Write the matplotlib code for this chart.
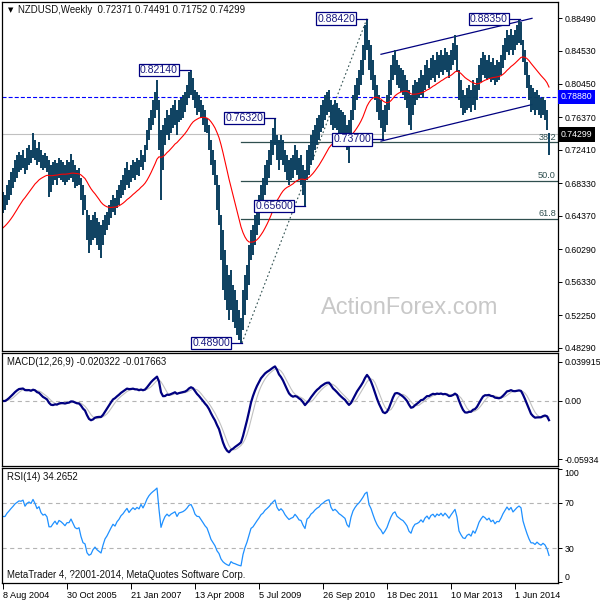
import numpy as np
import matplotlib
matplotlib.use("Agg")
import matplotlib.pyplot as plt
import matplotlib.transforms as mtransforms

plt.rcParams['font.family'] = ['Liberation Sans', 'DejaVu Sans']
plt.rcParams['lines.scale_dashes'] = False

# NZDUSD weekly chart, read as one bar per two weeks (Aug 2004 - Jan 2015)
highs = [
    0.673, 0.669, 0.681, 0.688, 0.697, 0.702, 0.712, 0.718, 0.722, 0.718,
    0.724, 0.714, 0.727, 0.730, 0.724, 0.745, 0.736, 0.727, 0.734, 0.724,
    0.718, 0.720, 0.717, 0.712, 0.706, 0.709, 0.712, 0.708, 0.714, 0.712,
    0.709, 0.706, 0.712, 0.709, 0.719, 0.712, 0.706, 0.700, 0.702, 0.690,
    0.681, 0.669, 0.651, 0.645, 0.639, 0.645, 0.649, 0.641, 0.636, 0.633,
    0.639, 0.645, 0.649, 0.657, 0.663, 0.669, 0.666, 0.675, 0.681, 0.688,
    0.694, 0.702, 0.709, 0.700, 0.706, 0.712, 0.709, 0.714, 0.712,
    0.724, 0.718, 0.730, 0.748, 0.763, 0.773, 0.785, 0.795, 0.809, 0.785,
    0.748, 0.755, 0.763, 0.773, 0.767, 0.775, 0.779, 0.785, 0.773, 0.785,
    0.787, 0.791, 0.795, 0.803, 0.819, 0.822, 0.812, 0.797, 0.795, 0.791,
    0.785, 0.779, 0.773, 0.763, 0.755, 0.736, 0.724, 0.712, 0.694, 0.681,
    0.645, 0.627, 0.602, 0.584, 0.572, 0.578, 0.560, 0.554, 0.541, 0.529,
    0.520, 0.554, 0.572, 0.584, 0.608, 0.627, 0.633, 0.645, 0.657, 0.669,
    0.681, 0.690, 0.706, 0.712, 0.724, 0.736, 0.751, 0.763, 0.742, 0.736,
    0.742, 0.736, 0.724, 0.718, 0.712, 0.714, 0.718, 0.730, 0.724, 0.714,
    0.718, 0.706, 0.700, 0.724, 0.730, 0.742, 0.748, 0.755, 0.763, 0.767,
    0.779, 0.785, 0.791, 0.795, 0.797, 0.785, 0.779, 0.785, 0.781, 0.775,
    0.773, 0.770, 0.767, 0.755, 0.761, 0.773, 0.791, 0.803, 0.812, 0.822,
    0.834, 0.852, 0.876, 0.884, 0.858, 0.852, 0.834, 0.815, 0.803, 0.791,
    0.785, 0.773, 0.779, 0.791, 0.809, 0.828, 0.840, 0.846, 0.834, 0.828,
    0.824, 0.822, 0.815, 0.809, 0.797, 0.791, 0.803, 0.809, 0.807, 0.812,
    0.822, 0.815, 0.828, 0.834, 0.824, 0.836, 0.840, 0.834, 0.843, 0.840,
    0.846, 0.840, 0.848, 0.843, 0.840, 0.846, 0.855, 0.864, 0.852, 0.822,
    0.809, 0.797, 0.791, 0.800, 0.803, 0.797, 0.809, 0.803, 0.812, 0.828,
    0.836, 0.843, 0.840, 0.834, 0.840, 0.831, 0.836, 0.828, 0.834, 0.831,
    0.840, 0.852, 0.860, 0.870, 0.864, 0.872, 0.864, 0.870, 0.876, 0.882,
    0.880, 0.858, 0.846, 0.831, 0.815, 0.803, 0.800, 0.795, 0.797, 0.791,
    0.787, 0.789, 0.785, 0.773, 0.745,
]
lows = [
    0.647, 0.651, 0.657, 0.663, 0.669, 0.678, 0.685, 0.690, 0.697, 0.700,
    0.702, 0.695, 0.700, 0.706, 0.708, 0.714, 0.712, 0.706, 0.710, 0.702,
    0.700, 0.702, 0.697, 0.667, 0.673, 0.681, 0.688, 0.681, 0.690, 0.688,
    0.685, 0.681, 0.685, 0.688, 0.690, 0.685, 0.678, 0.680, 0.681, 0.663,
    0.645, 0.651, 0.614, 0.599, 0.608, 0.614, 0.617, 0.608, 0.602, 0.593,
    0.608, 0.621, 0.627, 0.633, 0.641, 0.649, 0.645, 0.653, 0.657, 0.666,
    0.669, 0.675, 0.681, 0.678, 0.685, 0.690, 0.688, 0.694, 0.692,
    0.703, 0.700, 0.710, 0.724, 0.736, 0.748, 0.755, 0.763, 0.773, 0.724,
    0.663, 0.700, 0.730, 0.742, 0.736, 0.745, 0.751, 0.755, 0.742, 0.758,
    0.761, 0.763, 0.770, 0.779, 0.787, 0.791, 0.785, 0.775, 0.767, 0.770,
    0.763, 0.755, 0.746, 0.745, 0.724, 0.706, 0.694, 0.681, 0.651, 0.633,
    0.590, 0.554, 0.541, 0.529, 0.517, 0.529, 0.515, 0.507, 0.499, 0.493,
    0.489, 0.505, 0.523, 0.541, 0.560, 0.590, 0.596, 0.608, 0.621, 0.633,
    0.651, 0.657, 0.669, 0.681, 0.690, 0.706, 0.718, 0.730, 0.712, 0.700,
    0.712, 0.706, 0.697, 0.688, 0.681, 0.688, 0.690, 0.700, 0.694, 0.688,
    0.681, 0.669, 0.656, 0.688, 0.694, 0.706, 0.712, 0.724, 0.730, 0.736,
    0.746, 0.751, 0.761, 0.767, 0.770, 0.755, 0.748, 0.751, 0.748, 0.745,
    0.742, 0.739, 0.736, 0.724, 0.708, 0.742, 0.761, 0.773, 0.785, 0.791,
    0.803, 0.815, 0.834, 0.846, 0.822, 0.809, 0.797, 0.785, 0.770, 0.761,
    0.751, 0.736, 0.746, 0.755, 0.773, 0.791, 0.809, 0.815, 0.803, 0.800,
    0.795, 0.791, 0.785, 0.775, 0.755, 0.748, 0.767, 0.779, 0.785, 0.787,
    0.791, 0.787, 0.797, 0.803, 0.800, 0.809, 0.812, 0.807, 0.815, 0.812,
    0.819, 0.815, 0.822, 0.819, 0.812, 0.822, 0.828, 0.834, 0.819, 0.785,
    0.775, 0.767, 0.769, 0.773, 0.775, 0.770, 0.779, 0.773, 0.785, 0.797,
    0.807, 0.815, 0.812, 0.809, 0.812, 0.807, 0.809, 0.803, 0.807, 0.809,
    0.815, 0.824, 0.834, 0.843, 0.840, 0.846, 0.840, 0.846, 0.852, 0.855,
    0.852, 0.831, 0.815, 0.800, 0.785, 0.770, 0.773, 0.767, 0.773, 0.767,
    0.763, 0.767, 0.761, 0.748, 0.718,
]

price_ticks = [0.88490, 0.84530, 0.80450, 0.76370, 0.72410, 0.68330,
               0.64370, 0.60290, 0.56330, 0.52250, 0.48290]
date_labels = ['8 Aug 2004', '30 Oct 2005', '21 Jan 2007', '13 Apr 2008', '5 Jul 2009',
               '26 Sep 2010', '18 Dec 2011', '10 Mar 2013', '1 Jun 2014']

# swing highs / lows marked on the chart: label, week, price
swings = [("0.82140", 187, 0.8214), ("0.76320", 272, 0.7632), ("0.65600", 302, 0.6560),
          ("0.48900", 239, 0.4890), ("0.88420", 364, 0.8842), ("0.73700", 380, 0.7370),
          ("0.88350", 517, 0.8835)]
fib_low, fib_high = 0.4890, 0.8842
fib_levels = [38.2, 50.0, 61.8]
resistance = 0.7888
last_close = 0.74299
# rising channel: (week0, price0, week1, price1)
channel = [(378, 0.8407, 529, 0.8845), (378, 0.7349, 529, 0.7794)]
# indicator values at the first visible bar
ma_start = 0.627
rsi_start = 58

bar_col = '#0b3f5f'
W, H = 600, 600
fig = plt.figure(figsize=(6, 6), dpi=100)


def panel(top, bottom):
    a = fig.add_axes([2 / W, 1 - bottom / H, 556 / W, (bottom - top) / H])
    a.set_xlim(-1, 555)
    a.yaxis.tick_right()
    a.tick_params(axis='y', length=3, width=0.7, pad=1.5, labelsize=6.3)
    a.set_xticks([])
    for s in a.spines.values():
        s.set_linewidth(0.9)
    return a


def ema(values, span, start):
    k = 2 / (span + 1)
    out, v = [], start
    for x in values:
        v = v + k * (x - v)
        out.append(v)
    return np.array(out)


def rsi_calc(values, period, start_level):
    d = np.diff(values, prepend=values[0])
    base = np.mean(np.abs(d))
    g, l = base * start_level / 100, base * (1 - start_level / 100)
    out = []
    for x in d:
        g = (g * (period - 1) + max(x, 0)) / period
        l = (l * (period - 1) + max(-x, 0)) / period
        out.append(100 - 100 / (1 + g / l))
    return np.array(out)


ax = panel(2, 351)
ax_macd = panel(353, 466)
ax_rsi = panel(468, 583)

weeks = np.arange(len(highs)) * 2
hi = np.array(highs)
lo = np.array(lows)
closes = (hi + lo) / 2

# price panel
ax.set_ylim(0.4792, 0.9044)
ax.axhline(resistance, color='#0000ff', lw=0.8, ls=(0, (2.9, 1.5)))
ax.axhline(last_close, color='#c0c0c0', lw=0.8)
for lvl in fib_levels:
    p = fib_high - (fib_high - fib_low) * lvl / 100
    ax.plot([238, 555], [p, p], color='#2f4f4f', lw=0.9)
    ax.text(553, p + 0.0012, '%.1f' % lvl, ha='right', va='bottom', fontsize=6.6, color='#2f4f4f')
ax.plot([239, 364], [fib_low, fib_high], color='#2f4f4f', lw=0.8, ls=(0, (1.2, 1.8)))
for w0, p0, w1, p1 in channel:
    ax.plot([w0, w1], [p0, p1], color='#000080', lw=0.9)

ax.vlines(weeks, lo, hi, color=bar_col, lw=1.4)
ax.plot(weeks, ema(closes, 27.5, ma_start), color='#ff0000', lw=0.8)

for txt, w, p in swings:
    ax.plot([w - 10, w], [p, p], color='#000080', lw=0.9)
    ax.text(w - 12, p, txt, ha='right', va='center', fontsize=7.6, color='#1a1a80',
            bbox=dict(boxstyle='square,pad=0.12', fc='white', ec='#000080', lw=0.9))

ax.set_yticks(price_ticks)
ax.set_yticklabels(['%.5f' % v for v in price_ticks])
tr = mtransforms.blended_transform_factory(ax.transAxes, ax.transData)
ax.text(1.0 + 3 / 556, resistance, '%.5f' % resistance, transform=tr, ha='left', va='center',
        fontsize=6.3, color='white', bbox=dict(boxstyle='square,pad=0.3', fc='#0000ff', ec='none'))
ax.text(1.0 + 3 / 556, last_close, '%.5f' % last_close, transform=tr, ha='left', va='center',
        fontsize=6.3, color='white', bbox=dict(boxstyle='square,pad=0.3', fc='black', ec='none'))

ax.text((410 - 2) / 556, 1 - (308 - 2) / 349, 'ActionForex.com', transform=ax.transAxes,
        ha='center', va='center', fontsize=17, color='#c8c8c8')
fig.text(8 / W, 1 - 10 / H, '\u25bc', fontsize=5, family='DejaVu Sans', va='center')
fig.text(18 / W, 1 - 10 / H, 'NZDUSD,Weekly  0.72371 0.74491 0.71752 0.74299',
         fontsize=6.9, va='center', color='#111111')

# MACD panel
macd = ema(closes, 6, closes[0]) - ema(closes, 13, closes[0])
signal = np.array([macd[max(0, i - 4):i + 1].mean() for i in range(len(macd))])
ax_macd.set_ylim(-0.0665, 0.0491)
ax_macd.axhline(0, color='#b4b4b4', lw=0.8, ls=(0, (3, 2.5)))
ax_macd.plot(weeks, signal, color='#c0c0c0', lw=0.8)
ax_macd.plot(weeks, macd, color='#000080', lw=1.6)
ax_macd.set_yticks([0.039915, 0, -0.05934])
ax_macd.set_yticklabels(['0.039915', '0.00', '-0.05934'])
fig.text(7 / W, 1 - 362 / H, 'MACD(12,26,9) -0.020322 -0.017663', fontsize=6.9, va='center',
         color='#111111')

# RSI panel
rsi = rsi_calc(closes, 16, rsi_start)
ax_rsi.set_ylim(-1.1, 101.1)
for lvl in (70, 30):
    ax_rsi.axhline(lvl, color='#b4b4b4', lw=0.8, ls=(0, (3, 2.5)))
ax_rsi.plot(weeks, rsi, color='#1e90ff', lw=0.9)
ax_rsi.set_yticks([100, 70, 30, 0])
ax_rsi.set_yticklabels(['100', '70', '30', '0'])
labs = ax_rsi.get_yticklabels()
labs[0].set_va('top')
labs[-1].set_va('bottom')
fig.text(7 / W, 1 - 477 / H, 'RSI(14) 34.2652', fontsize=6.9, va='center', color='#111111')
fig.text(7 / W, 1 - 575 / H, 'MetaTrader 4, ?2001-2014, MetaQuotes Software Corp.',
         fontsize=6.9, va='center', color='#111111')

ax_rsi.set_xticks(np.arange(len(date_labels)) * 64)
ax_rsi.set_xticklabels(date_labels)
ax_rsi.tick_params(axis='x', length=4, width=0.7, pad=2, labelsize=6.6)
for lbl in ax_rsi.get_xticklabels():
    lbl.set_ha('left')

fig.savefig('out.png', dpi=100, facecolor='white')
